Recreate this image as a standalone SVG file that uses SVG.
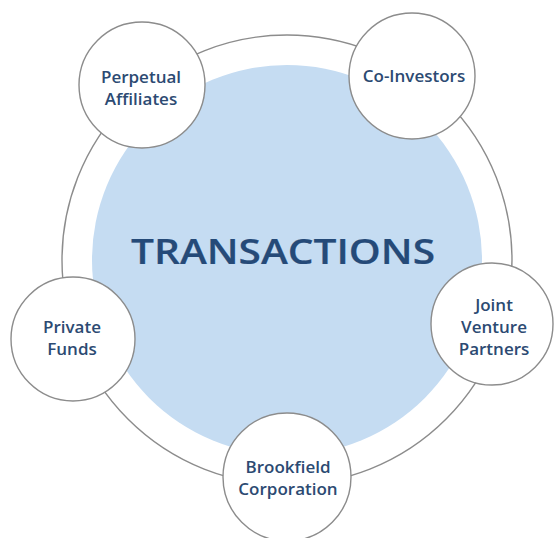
<svg xmlns="http://www.w3.org/2000/svg" width="556" height="538" viewBox="0 0 556 538">
<style>
.node{fill:#ffffff;stroke:#8c8c8c;stroke-width:1.4}
.ring{fill:none;stroke:#8c8c8c;stroke-width:1.4}
.lbl{font-family:"Open Sans","Noto Sans",sans-serif;font-weight:600;font-size:17px;fill:#2c4a72;text-anchor:middle}
.title{font-family:"Open Sans","Noto Sans",sans-serif;font-weight:600;font-size:34px;fill:#254a78;text-anchor:middle;stroke:#254a78;stroke-width:0.2}
</style>
<rect width="556" height="538" fill="#ffffff"/>
<g id="connectors">
<circle class="ring" cx="287" cy="260" r="225"/>
</g>
<g id="center">
<circle cx="287" cy="260" r="195" fill="#c5dcf2"/>
<text class="title" x="283" y="264" textLength="304" lengthAdjust="spacingAndGlyphs">TRANSACTIONS</text>
</g>
<g id="perpetual-affiliates">
<circle class="node" cx="142" cy="85" r="63"/>
<text class="lbl" x="141" y="83">Perpetual</text>
<text class="lbl" x="141" y="105">Affiliates</text>
</g>
<g id="co-investors">
<circle class="node" cx="412" cy="76" r="63"/>
<text class="lbl" x="414" y="82">Co-Investors</text>
</g>
<g id="joint-venture-partners">
<circle class="node" cx="492" cy="324" r="61"/>
<text class="lbl" x="494" y="311">Joint</text>
<text class="lbl" x="494" y="333">Venture</text>
<text class="lbl" x="494" y="355">Partners</text>
</g>
<g id="private-funds">
<circle class="node" cx="73" cy="339" r="62"/>
<text class="lbl" x="72" y="333">Private</text>
<text class="lbl" x="72" y="355">Funds</text>
</g>
<g id="brookfield-corporation">
<circle class="node" cx="287" cy="477" r="64"/>
<text class="lbl" x="288" y="473">Brookfield</text>
<text class="lbl" x="288" y="495">Corporation</text>
</g>
</svg>
